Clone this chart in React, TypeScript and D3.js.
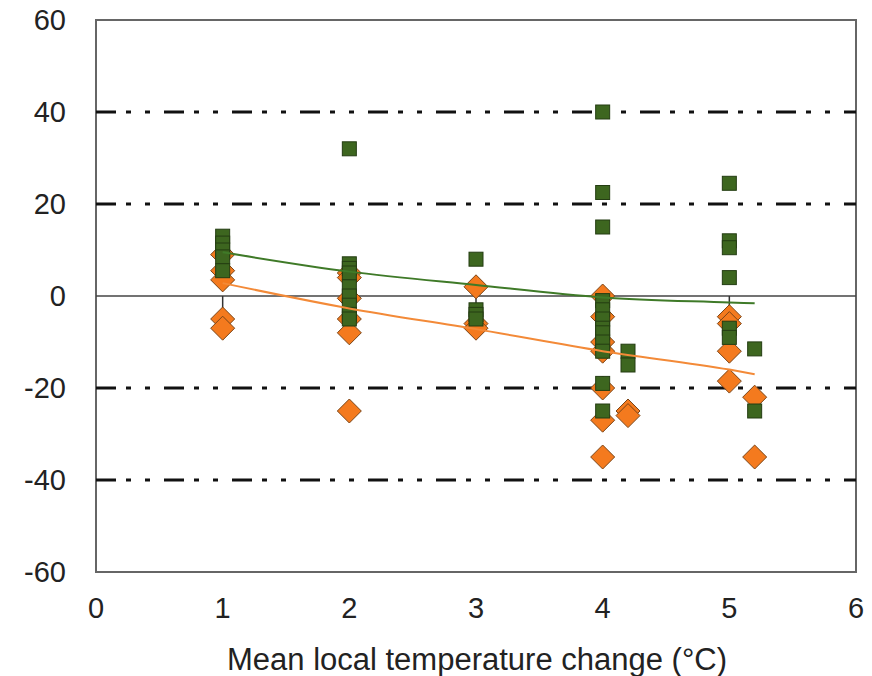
import React from 'react';
import * as d3 from 'd3';

// x positions of the point groups (mean local temperature change, °C)
const temps = [1, 2, 3, 4, 4.2, 5, 5.2];

// green squares, one list per temperature group
const squareValues: number[][] = [
  [13, 11.5, 10, 8.5, 5.5],
  [32, 7, 6, 5, 2, 0, -2, -4, -5],
  [8, -3, -4, -5],
  [40, 22.5, 15, -1, -3, -5, -7, -8, -10, -12, -19, -25],
  [-12, -15],
  [24.5, 12, 10.5, 4, -7, -9],
  [-11.5, -25],
];

// orange diamonds, one list per temperature group
const diamondValues: number[][] = [
  [9, 5.5, 3.5, -5, -7],
  [5, 4, -0.5, -5, -8, -25],
  [2, -6, -7],
  [0, -4.5, -10, -12, -20, -27, -35],
  [-25, -26],
  [-4.5, -6, -12, -18.5],
  [-22, -35],
];

// fitted trend lines
const fitX = [1, 2, 3, 4, 5, 5.2];
const squareFit = [9.5, 5.3, 2.4, -0.3, -1.4, -1.6];
const diamondFit = [2.8, -2.7, -7.2, -12, -16, -17];

// thin vertical connectors
const stemX = [1, 3, 5];
const stemTop = [0, 2, 0];
const stemBottom = [-5, -3, -4.5];

const xTicks = [0, 1, 2, 3, 4, 5, 6];
const yTicks = [-60, -40, -20, 0, 20, 40, 60];
const dashedLines = [-40, -20, 20, 40];

const left = 96, right = 856, top = 20, bottom = 572;
const font = '"Liberation Sans", Arial, sans-serif';

export default function App() {
  const x = d3.scaleLinear().domain([0, 6]).range([left, right]);
  const y = d3.scaleLinear().domain([-60, 60]).range([bottom, top]);

  const line = d3.line<number>()
    .x((_, i) => x(fitX[i]))
    .y(d => y(d))
    .curve(d3.curveMonotoneX);

  const sq = 14;
  const dm = 12;
  const diamond = (cx: number, cy: number) =>
    `M${cx},${cy - dm}L${cx + dm},${cy}L${cx},${cy + dm}L${cx - dm},${cy}Z`;

  return (
    <svg width={872} height={676} style={{ position: 'absolute', left: 0, top: 0, background: '#fff' }}>
      <rect x={left} y={top} width={right - left} height={bottom - top} fill="#fff" stroke="#666" strokeWidth={2} />
      {dashedLines.map(v => (
        <line key={v} x1={left} x2={right} y1={y(v)} y2={y(v)}
          stroke="#111" strokeWidth={3} strokeDasharray="20 10 5 14 5 14" />
      ))}
      <line x1={left} x2={right} y1={y(0)} y2={y(0)} stroke="#444" strokeWidth={1.5} />
      {stemX.map((t, i) => (
        <line key={i} x1={x(t)} x2={x(t)} y1={y(stemTop[i])} y2={y(stemBottom[i])} stroke="#333" strokeWidth={1.5} />
      ))}
      {diamondValues.map((vals, gi) => vals.map((v, j) => (
        <path key={`d${gi}-${j}`} d={diamond(x(temps[gi]), y(v))}
          fill="#f47a1e" stroke="#7a4518" strokeWidth={1} />
      )))}
      {squareValues.map((vals, gi) => vals.map((v, j) => (
        <rect key={`s${gi}-${j}`} x={x(temps[gi]) - sq / 2} y={y(v) - sq / 2} width={sq} height={sq}
          fill="#3d661f" stroke="#243d12" strokeWidth={1} />
      )))}
      <path d={line(squareFit) || ''} fill="none" stroke="#3f7a28" strokeWidth={2} />
      <path d={line(diamondFit) || ''} fill="none" stroke="#f38a38" strokeWidth={2} />
      {yTicks.map(t => (
        <text key={t} x={66} y={y(t) + 10} textAnchor="end" fontFamily={font} fontSize={29} fill="#222">{t}</text>
      ))}
      {xTicks.map(t => (
        <text key={t} x={x(t)} y={618} textAnchor="middle" fontFamily={font} fontSize={29} fill="#222">{t}</text>
      ))}
      <text x={477} y={670} textAnchor="middle" fontFamily={font} fontSize={31} fill="#222">
        Mean local temperature change (°C)
      </text>
    </svg>
  );
}
